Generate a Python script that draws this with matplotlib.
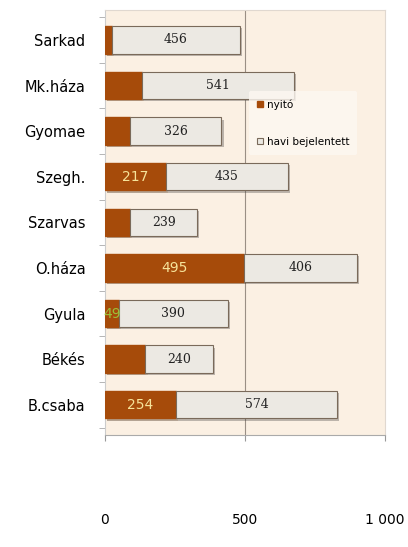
import matplotlib.pyplot as plt
import matplotlib.patheffects as pe

telepulesek = ["Sarkad", "Mk.háza", "Gyomae", "Szegh.", "Szarvas",
               "O.háza", "Gyula", "Békés", "B.csaba"]
nyito = [25, 133, 90, 217, 90, 495, 49, 145, 254]
havi = [456, 541, 326, 435, 239, 406, 390, 240, 574]
nyito_cimke = ["", "", "", "217", "", "495", "49", "", "254"]

barna = "#A64B0A"
szurke = "#ECE9E3"
hatter = "#FBF0E3"

fig = plt.figure(figsize=(4.08, 5.47), dpi=100)
ax = fig.add_axes([0.257, 0.205, 0.687, 0.777])
ax.set_facecolor(hatter)

arnyek = [pe.SimplePatchShadow(offset=(1.5, -1.5), alpha=0.35), pe.Normal()]
y = range(len(telepulesek))
b1 = ax.barh(y, nyito, height=0.6, color=barna, edgecolor=barna,
             label="nyitó", zorder=3)
b2 = ax.barh(y, havi, left=nyito, height=0.6, color=szurke,
             edgecolor="#7a6a5a", linewidth=0.8, label="havi bejelentett", zorder=3)
for p in list(b1) + list(b2):
    p.set_path_effects(arnyek)

for i in y:
    ax.text(nyito[i] + havi[i] / 2, i, str(havi[i]), ha="center", va="center",
            fontsize=9, family="DejaVu Serif", color="#222222", zorder=4)
    if nyito_cimke[i]:
        szin = "#9BBF3A" if nyito[i] < 60 else "#F6E39A"
        ax.text(nyito[i] / 2, i, nyito_cimke[i], ha="center", va="center",
                fontsize=10, color=szin, zorder=4)

ax.set_xlim(0, 1000)
ax.set_ylim(8.66, -0.66)
ax.set_xticks([0, 500, 1000])
ax.set_xticklabels(["0", "500", "1 000"], fontsize=10)
ax.tick_params(axis="x", pad=52, length=4, color="#999999")
ax.set_yticks(list(y))
ax.set_yticklabels(telepulesek, fontsize=10.5)
ax.tick_params(axis="y", length=0, pad=14)
ax.set_yticks([i + 0.5 for i in range(-1, 9)], minor=True)
ax.tick_params(axis="y", which="minor", length=4, color="#aaaaaa")
ax.axvline(500, color="#9a8f85", linewidth=0.8, zorder=1)
for s in ["top", "right"]:
    ax.spines[s].set_color("#e0d8d0")
ax.spines["left"].set_color("#cccccc")
ax.spines["bottom"].set_color("#aaaaaa")

leg = ax.legend(loc="upper left", bbox_to_anchor=(0.495, 0.822), fontsize=7.5,
                frameon=True, facecolor="#FDF8F2", edgecolor="none",
                handlelength=0.6, handleheight=0.6, handletextpad=0.3,
                labelspacing=2.6, borderpad=0.8)
for h in leg.legend_handles:
    h.set_path_effects([])

fig.savefig("out.png", dpi=100)
